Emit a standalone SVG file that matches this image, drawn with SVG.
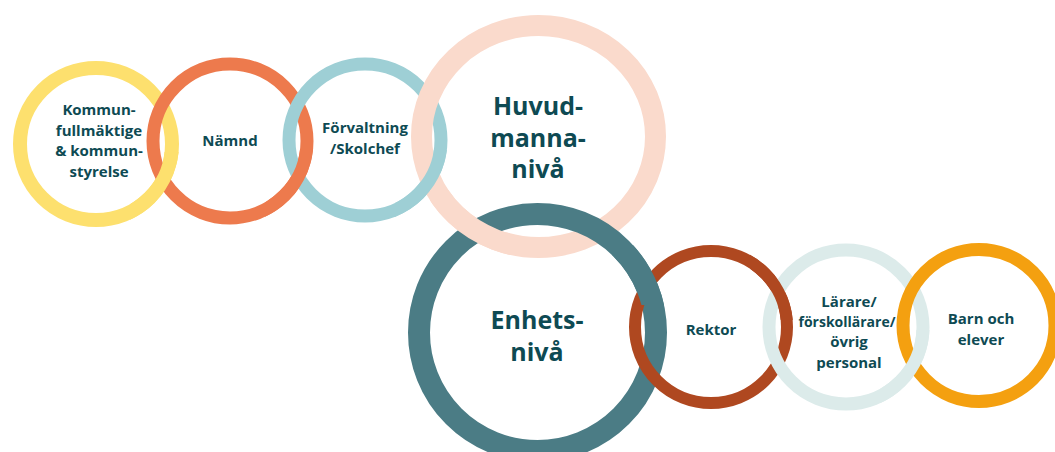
<svg xmlns="http://www.w3.org/2000/svg" xmlns:xlink="http://www.w3.org/1999/xlink" width="1055" height="452" viewBox="0 0 1055 452">
<style>
.ring{fill:none}
.t{font-family:"Open Sans","Noto Sans","Liberation Sans",sans-serif;font-weight:700;fill:#0e4a53;text-anchor:middle}
.s{font-size:15px}
.b{font-size:25px}
</style>
<defs>
<clipPath id="c12"><rect x="130" y="152" width="70" height="90"/></clipPath>
<clipPath id="c23"><rect x="265" y="150" width="65" height="90"/></clipPath>
<clipPath id="c34"><rect x="395" y="150" width="70" height="90"/></clipPath>
<clipPath id="c45"><rect x="430" y="190" width="80" height="80"/></clipPath>
<clipPath id="c56"><rect x="612" y="245" width="68" height="60"/></clipPath>
<clipPath id="c67"><rect x="750" y="240" width="60" height="80"/></clipPath>
<clipPath id="c78"><rect x="880" y="330" width="65" height="90"/></clipPath>
</defs>
<rect width="1055" height="452" fill="#ffffff"/>
<g id="node-kommunfullmaktige">
<circle id="r1" class="ring" cx="96" cy="144" r="76" stroke="#fde06e" stroke-width="14"/>
<text class="t s"><tspan x="99" y="115">Kommun-</tspan><tspan x="99" y="136">fullmäktige</tspan><tspan x="99" y="156">&amp; kommun-</tspan><tspan x="99" y="177">styrelse</tspan></text>
</g>
<g id="node-namnd">
<circle id="r2" class="ring" cx="230" cy="141" r="77" stroke="#ed7a4d" stroke-width="13"/>
<text class="t s" x="230" y="146">Nämnd</text>
</g>
<g id="node-forvaltning">
<circle id="r3" class="ring" cx="365" cy="140" r="76" stroke="#9ecfd5" stroke-width="13"/>
<text class="t s"><tspan x="365" y="133">Förvaltning</tspan><tspan x="365" y="154">/Skolchef</tspan></text>
</g>
<g id="node-huvudmanna">
<ellipse id="r4" class="ring" cx="538.5" cy="136.5" rx="117" ry="111" stroke="#fadacc" stroke-width="21"/>
<text class="t b"><tspan x="538" y="115">Huvud-</tspan><tspan x="538" y="147">manna-</tspan><tspan x="538" y="178">nivå</tspan></text>
</g>
<g id="node-enhets">
<circle id="r5" class="ring" cx="537.5" cy="332.5" r="118.5" stroke="#4b7c85" stroke-width="22"/>
<text class="t b"><tspan x="537" y="329">Enhets-</tspan><tspan x="537" y="361">nivå</tspan></text>
</g>
<g id="node-rektor">
<circle id="r6" class="ring" cx="711" cy="327" r="76" stroke="#af4820" stroke-width="12"/>
<text class="t s" x="711" y="335">Rektor</text>
</g>
<g id="node-larare">
<circle id="r7" class="ring" cx="846" cy="327" r="77" stroke="#dcebea" stroke-width="13"/>
<text class="t s"><tspan x="849" y="307">Lärare/</tspan><tspan x="847" y="327" font-size="14px">förskollärare/</tspan><tspan x="849" y="347">övrig</tspan><tspan x="849" y="368">personal</tspan></text>
</g>
<g id="node-barn">
<circle id="r8" class="ring" cx="979" cy="325.5" r="76" stroke="#f4a010" stroke-width="13"/>
<text class="t s"><tspan x="981" y="324">Barn och</tspan><tspan x="981" y="345">elever</tspan></text>
</g>
<g id="interlocks">
<use xlink:href="#r1" href="#r1" clip-path="url(#c12)"/>
<use xlink:href="#r2" href="#r2" clip-path="url(#c23)"/>
<use xlink:href="#r3" href="#r3" clip-path="url(#c34)"/>
<use xlink:href="#r4" href="#r4" clip-path="url(#c45)"/>
<use xlink:href="#r5" href="#r5" clip-path="url(#c56)"/>
<use xlink:href="#r6" href="#r6" clip-path="url(#c67)"/>
<use xlink:href="#r7" href="#r7" clip-path="url(#c78)"/>
</g>
</svg>
